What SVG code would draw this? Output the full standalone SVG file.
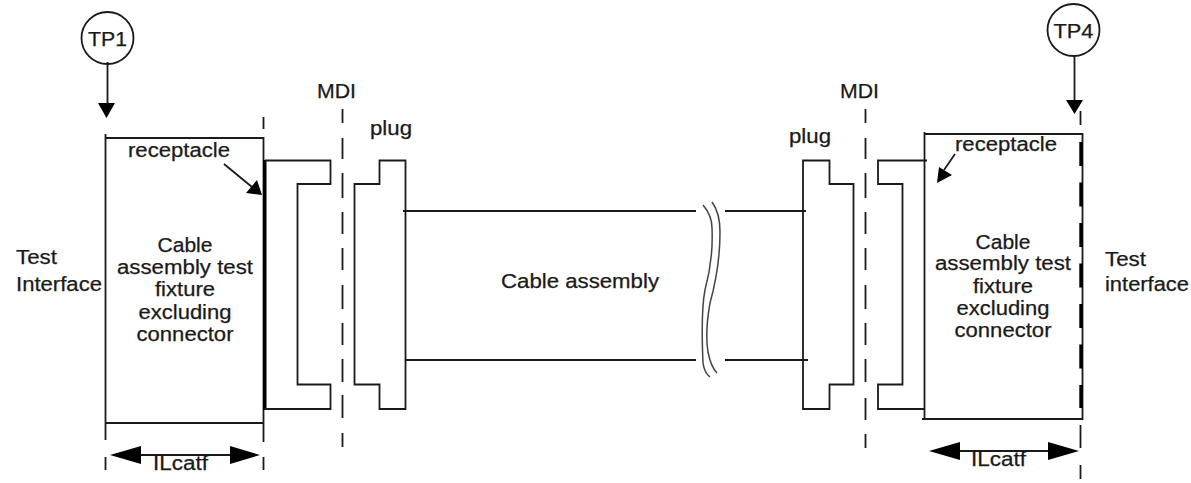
<svg xmlns="http://www.w3.org/2000/svg" width="1191" height="483" viewBox="0 0 1191 483">
<style>
text{font-family:"Liberation Sans",Arial,sans-serif;font-size:20px;fill:#1a1a1a;stroke:#1a1a1a;stroke-width:.25}
.m{text-anchor:middle}
.l{fill:none;stroke:#1a1a1a;stroke-width:1.8}
.w{fill:none;stroke:#444;stroke-width:1.5}
.t{fill:none;stroke:#000;stroke-width:3.4}
.h{fill:#000;stroke:none}
</style>
<rect width="1191" height="483" fill="#fff"/>
<g id="connectors">
<path class="l" d="M107.500 62V104M1074.500 56V101"/>
<path class="h" d="M98 103H115L106.500 118ZM1066 100H1083L1074.500 114Z"/>
<path class="l" d="M224 164L252 187"/>
<path class="h" d="M262 195L246 193L257 180Z"/>
<path class="l" d="M955 154L944 170"/>
<path class="h" d="M937 183L939 167L952 175Z"/>
<path class="l" d="M140 455H232M960 451H1050"/>
<path class="h" d="M110 455L141 446V464ZM260 455L230 446V464ZM929 451L960 442V460ZM1079 451L1048 442V460Z"/>
<path class="l" d="M403 211H696M725 211H806M405 360H696M725 360H808"/>
<path class="w" d="M703 205C709 212 712 218 712 228C713 250 711 268 705 290C701 310 702 340 703 363C704 370 706 374 710 377"/>
<path class="w" d="M712 202C718 210 720 220 720 232C720 260 715 285 710 303C707 320 706 340 708 352C710 362 713 369 717 373"/>
<path class="l" d="M342.500 109V123M342.500 138V159M342.500 173V198M342.500 212V234M342.500 248V270M342.500 285V309M342.500 323V345M342.500 359V382M342.500 395V418M342.500 433V447"/>
<path class="l" d="M865.500 109V123M865.500 138V159M865.500 173V198M865.500 212V234M865.500 248V270M865.500 285V309M865.500 323V345M865.500 359V382M865.500 398V420M865.500 434V448"/>
<path class="l" d="M105.500 457V470M263.500 117V129M263.500 457V470M1080.500 111V125M1080.500 425V448M1080.500 465V479"/>
</g>
<g id="tp1"><circle class="l" cx="107.500" cy="38" r="26"/><text class="m" x="107.500" y="46" textLength="39" lengthAdjust="spacingAndGlyphs">TP1</text></g>
<g id="tp4"><circle class="l" cx="1073.500" cy="30" r="26"/><text class="m" x="1073.500" y="38" textLength="40" lengthAdjust="spacingAndGlyphs">TP4</text></g>
<g id="left-fixture">
<path class="l" d="M105.500 134V440M105.500 138H263.500V442M105.500 423H263.500"/>
<path class="t" d="M264.800 160V410"/>
<text x="128" y="157" textLength="102" lengthAdjust="spacingAndGlyphs">receptacle</text>
<text class="m" x="185" y="252" textLength="55" lengthAdjust="spacingAndGlyphs">Cable</text>
<text class="m" x="185" y="274" textLength="136" lengthAdjust="spacingAndGlyphs">assembly test</text>
<text class="m" x="185" y="296" textLength="60" lengthAdjust="spacingAndGlyphs">fixture</text>
<text class="m" x="185" y="319" textLength="93" lengthAdjust="spacingAndGlyphs">excluding</text>
<text class="m" x="185" y="341" textLength="97" lengthAdjust="spacingAndGlyphs">connector</text>
<text x="16" y="264" textLength="41" lengthAdjust="spacingAndGlyphs">Test</text>
<text x="16" y="291" textLength="86" lengthAdjust="spacingAndGlyphs">Interface</text>
<text x="153" y="470" textLength="55" lengthAdjust="spacingAndGlyphs">ILcatf</text>
</g>
<g id="left-receptacle"><path class="l" d="M265 160.500H330.500V184H297.500V384.500H330.500V409H265"/></g>
<g id="left-mdi"><text x="317" y="98" textLength="39" lengthAdjust="spacingAndGlyphs">MDI</text></g>
<g id="left-plug">
<path class="l" d="M379.500 160.500H405.500V409H379.500V384.500H354.500V184H379.500Z"/>
<text x="370" y="135" textLength="42" lengthAdjust="spacingAndGlyphs">plug</text>
</g>
<g id="cable"><text x="501" y="288" textLength="158" lengthAdjust="spacingAndGlyphs">Cable assembly</text></g>
<g id="right-plug">
<path class="l" d="M803 160.500H829.500V184H853.500V384.500H829.500V409H803Z"/>
<text x="789" y="143" textLength="42" lengthAdjust="spacingAndGlyphs">plug</text>
</g>
<g id="right-mdi"><text x="840" y="98" textLength="39" lengthAdjust="spacingAndGlyphs">MDI</text></g>
<g id="right-receptacle"><path class="l" d="M927 160.500H878V184H902.500V384.500H878V409H924"/></g>
<g id="right-fixture">
<path class="l" d="M924.500 132V419M922 419H1082.500V134H924.500"/>
<path class="t" stroke-dasharray="24 16.500" d="M1081 142V408"/>
<text x="955" y="151" textLength="102" lengthAdjust="spacingAndGlyphs">receptacle</text>
<text class="m" x="1003" y="249" textLength="55" lengthAdjust="spacingAndGlyphs">Cable</text>
<text class="m" x="1003" y="270" textLength="136" lengthAdjust="spacingAndGlyphs">assembly test</text>
<text class="m" x="1003" y="293" textLength="60" lengthAdjust="spacingAndGlyphs">fixture</text>
<text class="m" x="1003" y="315" textLength="93" lengthAdjust="spacingAndGlyphs">excluding</text>
<text class="m" x="1003" y="337" textLength="97" lengthAdjust="spacingAndGlyphs">connector</text>
<text x="1105" y="266" textLength="41" lengthAdjust="spacingAndGlyphs">Test</text>
<text x="1105" y="291" textLength="84" lengthAdjust="spacingAndGlyphs">interface</text>
<text x="971" y="466" textLength="55" lengthAdjust="spacingAndGlyphs">ILcatf</text>
</g>
</svg>
